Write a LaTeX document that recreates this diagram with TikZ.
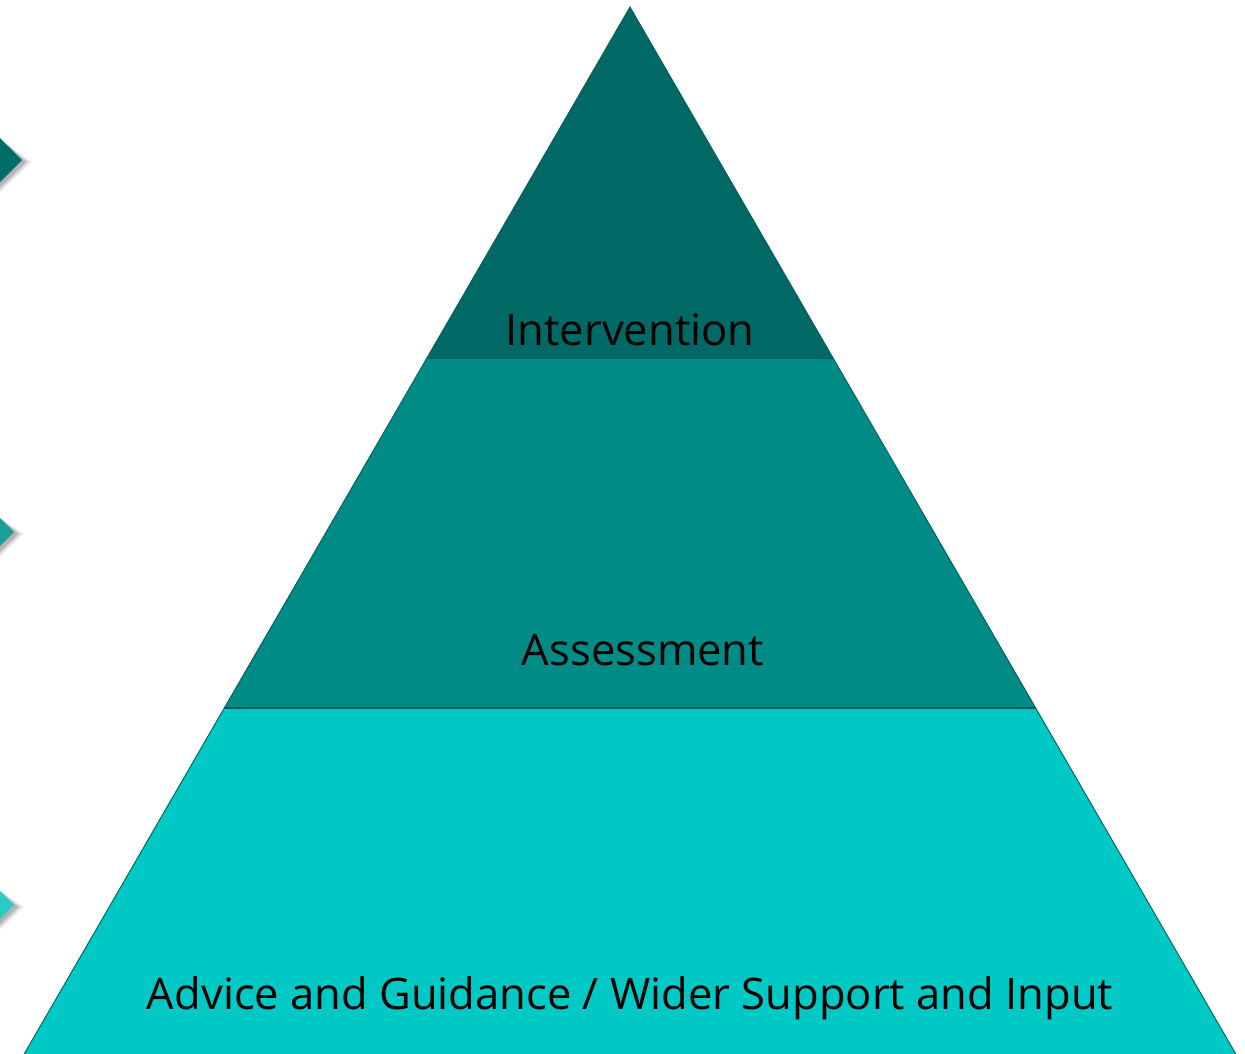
\documentclass[tikz,border=0pt]{standalone}
\usepackage{fontspec}
\setmainfont{Open Sans}
\definecolor{tierA}{HTML}{006865}
\definecolor{tierB}{HTML}{008B87}
\definecolor{tierC}{HTML}{00C8C4}
\definecolor{edgeC}{HTML}{005F5C}
\definecolor{diaA}{HTML}{006D69}
\definecolor{diaB}{HTML}{1A9E99}
\definecolor{diaC}{HTML}{2CCBC6}
\tikzset{
  tier/.style={draw=edgeC, line width=0.9bp, line join=miter},
  lbl/.style={font=\fontsize{43.7}{50}\selectfont, text=black, anchor=base, inner sep=0pt},
}
\begin{document}
\begin{tikzpicture}[x=1bp,y=-1bp]
\useasboundingbox (0,0) rectangle (1245,1054);
% side diamonds with soft shadow
\foreach \cy/\tx/\col in {160/22/diaA, 532/14/diaB, 905/14/diaC}{
  \foreach \s/\o in {8/0.05,6/0.07,4/0.09,2/0.12}{
    \fill[black, opacity=\o] (-30,\cy-\tx-30+\s+2) -- (\tx+\s+2,\cy+2) -- (-30,\cy+\tx+30+\s+2) -- cycle;
  }
  \fill[\col] (-30,\cy-\tx-30) -- (\tx,\cy) -- (-30,\cy+\tx+30) -- cycle;
}
% pyramid
\coordinate (apex) at (630,7);
\coordinate (l1) at (427,358);
\coordinate (r1) at (833,358);
\coordinate (l2) at (224,708);
\coordinate (r2) at (1036,708);
\coordinate (l3) at (23,1056);
\coordinate (r3) at (1237,1056);
\fill[tierC] (l2) -- (r2) -- (r3) -- (l3) -- cycle;
\fill[tierB] (l1) -- (r1) -- (r2) -- (l2) -- cycle;
\fill[tierA] (apex) -- (r1) -- (l1) -- cycle;
\draw[tier] (l1) -- (r1);
\draw[draw=edgeC, line width=1.8bp] (l2) -- (r2);
\draw[tier] (l3) -- (apex) -- (r3);
% labels
\node[lbl] (t1) at (630,345) {Intervention};
\node[lbl] (t2) at (643,665) {Assessment};
\node[lbl] (t3) at (630,1009) {Advice and Guidance / Wider Support and Input};
\end{tikzpicture}
\end{document}
